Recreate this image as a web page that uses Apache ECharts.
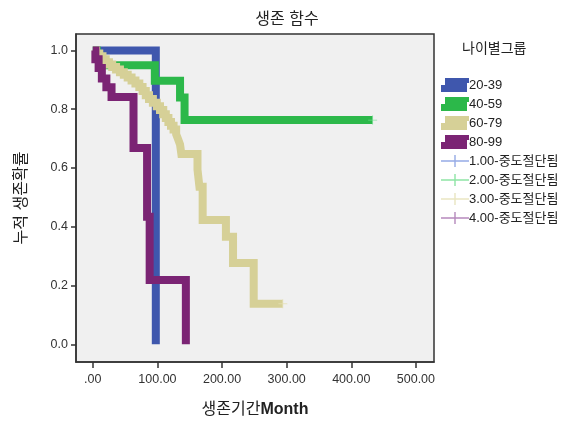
<!DOCTYPE html>
<html>
<head>
<meta charset="utf-8">
<script src="https://cdn.jsdelivr.net/npm/echarts@6/dist/echarts.min.js"></script>
<style>
html,body{margin:0;padding:0;background:#fff;}
#chart{width:574px;height:423px;}
</style>
</head>
<body>
<div id="chart"></div>
<script>
// ---- data ----
const groupNames = ['20-39', '40-59', '60-79', '80-99'];
const censorNames = ['1.00-중도절단됨', '2.00-중도절단됨', '3.00-중도절단됨', '4.00-중도절단됨'];
const xTicks = [0, 100, 200, 300, 400, 500];
const yTicks = [0, 0.2, 0.4, 0.6, 0.8, 1.0];

// survival curves: [time, survival]
const curve2039 = [[0, 1.0], [97.5, 0.0]];
const curve4059 = [[0, 1.0], [6, 0.975], [12, 0.95], [96, 0.897], [135, 0.84], [142, 0.763], [433, 0.763]];
const curve6079 = [[0, 1.0], [5, 0.99], [10, 0.98], [15, 0.97], [20, 0.96], [25, 0.952], [30, 0.944],
  [36, 0.935], [42, 0.926], [48, 0.917], [54, 0.908], [60, 0.898], [66, 0.888], [72, 0.876],
  [77, 0.862], [82, 0.848], [87, 0.835], [93, 0.822], [99, 0.81], [104, 0.797], [109, 0.783],
  [113, 0.77], [117, 0.757], [121, 0.744], [125, 0.731], [129, 0.715], [132, 0.698], [135, 0.68],
  [137, 0.648], [162, 0.595], [165, 0.536], [170, 0.423], [206, 0.366], [217, 0.277], [249, 0.138], [294, 0.138]];
const curve8099 = [[0, 1.0], [4, 0.97], [9, 0.94], [14, 0.905], [21, 0.875], [29, 0.842], [63, 0.668],
  [84, 0.434], [88, 0.219], [144, 0.0]];

// censored observations
const censor1 = [];
const censor2 = [[433, 0.763]];
const censor3 = [[294, 0.138]];
const censor4 = [];

// ---- styles ----
const lineColors = ['#3f57ad', '#2cb84a', '#d6d097', '#7b2474'];
const censorColors = ['#7b95de', '#72dd8e', '#e3dfb2', '#a26bab'];
const curves = [curve2039, curve4059, curve6079, curve8099];
const censors = [censor1, censor2, censor3, censor4];

const stepIcon = 'path://M0,7 L4,7 L4,0 L28,0 L28,5 L26,5 L26,14 L0,14 Z';
const censorIcon = 'path://M0,6.3 L28,6.3 L28,7.7 L0,7.7 Z M13.3,1 L14.7,1 L14.7,13 L13.3,13 Z M0,0 L0,0.01 L0.01,0 Z M0,14 L0,13.99 L0.01,14 Z';
const plusSym = 'path://M0,4.5 L10,4.5 L10,5.5 L0,5.5 Z M4.5,0 L5.5,0 L5.5,10 L4.5,10 Z';

const FONT = "'Liberation Sans', Arial, 'Noto Sans CJK KR', sans-serif";

const series = [];
groupNames.forEach((n, i) => {
  series.push({
    name: n, type: 'line', step: 'end', data: curves[i],
    showSymbol: false, symbol: 'none',
    color: lineColors[i],
    lineStyle: { width: 8, color: lineColors[i], cap: 'butt', join: 'miter' },
    z: 2 + i, animation: false
  });
});
censorNames.forEach((n, i) => {
  series.push({
    name: n, type: 'scatter', data: censors[i],
    symbol: plusSym, symbolSize: 9,
    color: censorColors[i],
    itemStyle: { color: censorColors[i] },
    z: 10, animation: false
  });
});

const chart = echarts.init(document.getElementById('chart'), null, { renderer: 'canvas' });
chart.setOption({
  animation: false,
  backgroundColor: '#ffffff',
  textStyle: { fontFamily: FONT },
  title: {
    text: '생존 함수', left: 'center', top: 7,
    textStyle: { fontSize: 16, fontWeight: 'normal', color: '#222', fontFamily: FONT }
  },
  grid: {
    left: 76, right: 140, top: 34, bottom: 61,
    show: true, backgroundColor: '#f0f0f0', borderColor: '#333', borderWidth: 1.5
  },
  graphic: [{
    type: 'text', left: 462, top: 42,
    style: { text: '나이별그룹', fontSize: 14, fill: '#222', fontFamily: FONT }
  }],
  legend: {
    orient: 'vertical', left: 436, top: 73,
    itemWidth: 28, itemHeight: 14, itemGap: 5,
    textStyle: { fontSize: 13, color: '#222', fontFamily: FONT, padding: [0, 0, 0, -5] },
    data: groupNames.map((n) => ({ name: n, icon: stepIcon }))
      .concat(censorNames.map((n) => ({ name: n, icon: censorIcon })))
  },
  xAxis: {
    type: 'value', min: -26, max: 528,
    name: '{k|생존기간}{b|Month}', nameLocation: 'middle', nameGap: 40,
    nameTextStyle: {
      rich: {
        k: { fontSize: 16, color: '#222', fontFamily: FONT },
        b: { fontSize: 16, color: '#222', fontWeight: 'bold', fontFamily: FONT }
      }
    },
    axisLine: { show: true, onZero: false, lineStyle: { color: '#333', width: 1.5 } },
    axisTick: { show: true, length: 6, lineStyle: { color: '#333', width: 1.5 }, customValues: xTicks },
    axisLabel: {
      customValues: xTicks, margin: 11, fontSize: 12.5, color: '#333', fontFamily: FONT,
      formatter: (v) => v === 0 ? '.00' : v.toFixed(2)
    },
    splitLine: { show: false }
  },
  yAxis: {
    type: 'value', min: -0.06, max: 1.056,
    name: '누적 생존확률', nameLocation: 'middle', nameGap: 46, nameRotate: 90,
    nameTextStyle: { fontSize: 16, color: '#222', fontFamily: FONT },
    axisLine: { show: true, onZero: false, lineStyle: { color: '#333', width: 1.5 } },
    axisTick: { show: true, length: 5, lineStyle: { color: '#333', width: 1.5 }, customValues: yTicks },
    axisLabel: {
      customValues: yTicks, margin: 8, fontSize: 12.5, color: '#333', fontFamily: FONT,
      formatter: (v) => v.toFixed(1)
    },
    splitLine: { show: false }
  },
  series: series
});
</script>
</body>
</html>
